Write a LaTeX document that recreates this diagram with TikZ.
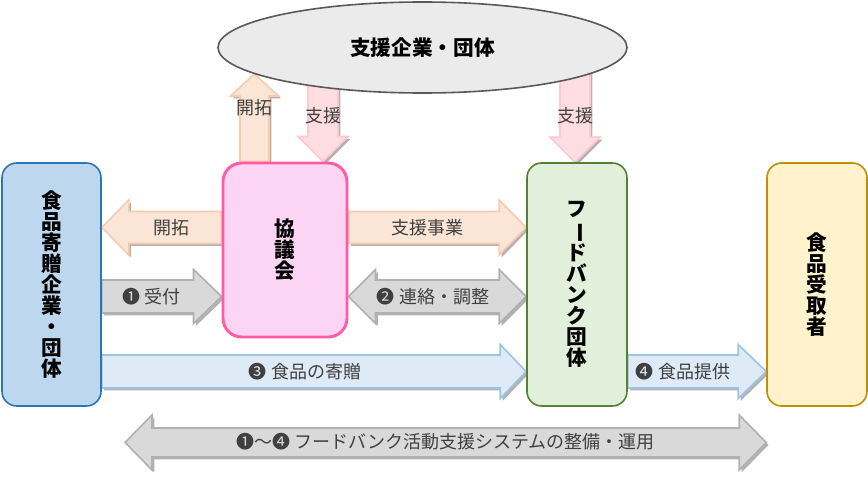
\documentclass[tikz,border=0pt]{standalone}
\usepackage{fontspec}
\setmainfont{Noto Sans CJK JP}
\usetikzlibrary{shapes.geometric,shadows,calc,backgrounds}

\definecolor{donorfill}{HTML}{BDD7EE}
\definecolor{donorline}{HTML}{2E75B6}
\definecolor{councilfill}{HTML}{FCD5F5}
\definecolor{councilline}{HTML}{FF5BA7}
\definecolor{bankfill}{HTML}{E2EFDA}
\definecolor{bankline}{HTML}{548235}
\definecolor{recvfill}{HTML}{FFF2CC}
\definecolor{recvline}{HTML}{BF9000}
\definecolor{corpfill}{HTML}{EBEBEB}
\definecolor{corpline}{HTML}{595959}
\definecolor{peachfill}{HTML}{FBE5D6}
\definecolor{peachline}{HTML}{F8CBAD}
\definecolor{pinkfill}{HTML}{FFDDE1}
\definecolor{pinkline}{HTML}{FFC7CE}
\definecolor{grayfill}{HTML}{D9D9D9}
\definecolor{grayline}{HTML}{B0B0B0}
\definecolor{bluefill}{HTML}{DEEBF7}
\definecolor{blueline}{HTML}{9DC3E6}
\definecolor{labeltext}{HTML}{404040}

\newcommand{\hblk}[6]{%
	\path[#1] let \p1=(#2), \p2=(#3) in
		(\x1,{\y2+#4*0.75pt}) -- ({\x2-(#6)*0.75pt},{\y2+#4*0.75pt}) -- ({\x2-(#6)*0.75pt},{\y2+#5*0.75pt}) -- (\x2,\y2)
		-- ({\x2-(#6)*0.75pt},{\y2-#5*0.75pt}) -- ({\x2-(#6)*0.75pt},{\y2-#4*0.75pt}) -- (\x1,{\y2-#4*0.75pt}) -- cycle;}
\newcommand{\vblk}[6]{%
	\path[#1] let \p1=(#2), \p2=(#3) in
		({\x2+#4*0.75pt},\y1) -- ({\x2+#4*0.75pt},{\y2+(#6)*0.75pt}) -- ({\x2+#5*0.75pt},{\y2+(#6)*0.75pt}) -- (\x2,\y2)
		-- ({\x2-#5*0.75pt},{\y2+(#6)*0.75pt}) -- ({\x2-#4*0.75pt},{\y2+(#6)*0.75pt}) -- ({\x2-#4*0.75pt},\y1) -- cycle;}
\newcommand{\dblk}[6]{%
	\path[#1] let \p1=(#2), \p2=(#3) in
		(\x1,\y2) -- ({\x1+#6*0.75pt},{\y2+#5*0.75pt}) -- ({\x1+#6*0.75pt},{\y2+#4*0.75pt}) -- ({\x2-#6*0.75pt},{\y2+#4*0.75pt})
		-- ({\x2-#6*0.75pt},{\y2+#5*0.75pt}) -- (\x2,\y2) -- ({\x2-#6*0.75pt},{\y2-#5*0.75pt}) -- ({\x2-#6*0.75pt},{\y2-#4*0.75pt})
		-- ({\x1+#6*0.75pt},{\y2-#4*0.75pt}) -- ({\x1+#6*0.75pt},{\y2-#5*0.75pt}) -- cycle;}

\begin{document}
\begin{tikzpicture}[x=0.75pt,y=-0.75pt,
	box/.style={rounded corners=11pt,line width=1.2pt,inner sep=0pt,align=center,
		font=\fontsize{15.5}{15.75}\selectfont\bfseries},
	lbl/.style={text=labeltext,font=\fontsize{13.5}{16}\selectfont,inner sep=1pt},
	shadowed/.style={drop shadow={shadow xshift=1.8pt,shadow yshift=-1.8pt,opacity=0.3,fill=black}},
	arrpeach/.style={fill=peachfill,draw=peachline,line width=1.2pt,shadowed},
	arrpink/.style={fill=pinkfill,draw=pinkline,line width=1.2pt,shadowed},
	arrgray/.style={fill=grayfill,draw=grayline,line width=1.2pt,shadowed},
	arrblue/.style={fill=bluefill,draw=blueline,line width=1.2pt,shadowed}]

	\useasboundingbox (0,0) rectangle (868,485);

	\node[box,fill=donorfill,draw=donorline,minimum width=74.25pt,minimum height=182.25pt] (donor) at (51.5,284.5)
		{食\\品\\寄\\贈\\企\\業\\・\\団\\体};
	\node[box,fill=councilfill,draw=councilline,line width=2.2pt,rounded corners=14pt,minimum width=93pt,minimum height=130.5pt] (council) at (285,250)
		{協\\議\\会};
	\node[box,fill=bankfill,draw=bankline,minimum width=75pt,minimum height=182.25pt] (fb) at (577,284.5)
		{フ\\\rotatebox[origin=c]{-90}{ー}\\ド\\バ\\ン\\ク\\団\\体};
	\node[box,fill=recvfill,draw=recvline,minimum width=75pt,minimum height=182.25pt] (recv) at (817,284.5)
		{食\\品\\受\\取\\者};
	\node[ellipse,fill=corpfill,draw=corpline,line width=1.2pt,minimum width=306.75pt,minimum height=68.25pt,
		font=\fontsize{15.5}{16}\selectfont\bfseries] (corp) at (422.5,47.5) {支援企業・団体};

	\coordinate (ra) at (0,227.5);
	\coordinate (rb) at (0,296.5);
	\coordinate (rc) at (0,371.5);
	\coordinate (rd) at (0,442.5);
	\coordinate (up) at (254.5,74);
	\coordinate (sh1) at (323,60);
	\coordinate (sh2) at (575,60);
	\coordinate (far) at (125,442.5);

	\begin{scope}[on background layer]
		\vblk{arrpeach}{council.north -| up}{up}{14.5}{24}{-22}
		\vblk{arrpink}{sh1}{council.north -| sh1}{15}{25}{25}
		\vblk{arrpink}{sh2}{fb.north -| sh2}{15}{25}{25}
		\hblk{arrpeach}{council.west |- ra}{donor.east |- ra}{16}{27.5}{-27}
		\hblk{arrpeach}{council.east |- ra}{fb.west |- ra}{16}{27.5}{27}
		\hblk{arrgray}{donor.east |- rb}{council.west |- rb}{16.5}{27}{28}
		\dblk{arrgray}{council.east |- rb}{fb.west |- rb}{16.5}{27}{27}
		\hblk{arrblue}{donor.east |- rc}{fb.west |- rc}{16.5}{27}{26}
		\hblk{arrblue}{fb.east |- rc}{recv.west |- rc}{16.5}{27}{28}
		\dblk{arrgray}{far}{recv.west |- rd}{14.5}{27.5}{27}
	\end{scope}

	\foreach \nm/\x/\y/\t in {
	kaitaku1/254/108/開拓,
	shien1/323/116/支援,
	shien2/575/116/支援,
	kaitaku2/171/228/開拓,
	jigyo/427/228/支援事業,
	uketsuke/151.5/296.5/❶ 受付,
	renraku/433/296.5/❷ 連絡・調整,
	kizo/305/372/❸ 食品の寄贈,
	teikyo/683/372/❹ 食品提供,
	seibi/445.5/442/❶〜❹ フードバンク活動支援システムの整備・運用}
	{
		\node[lbl] (\nm) at (\x,\y) {\t};
	};
\end{tikzpicture}
\end{document}
